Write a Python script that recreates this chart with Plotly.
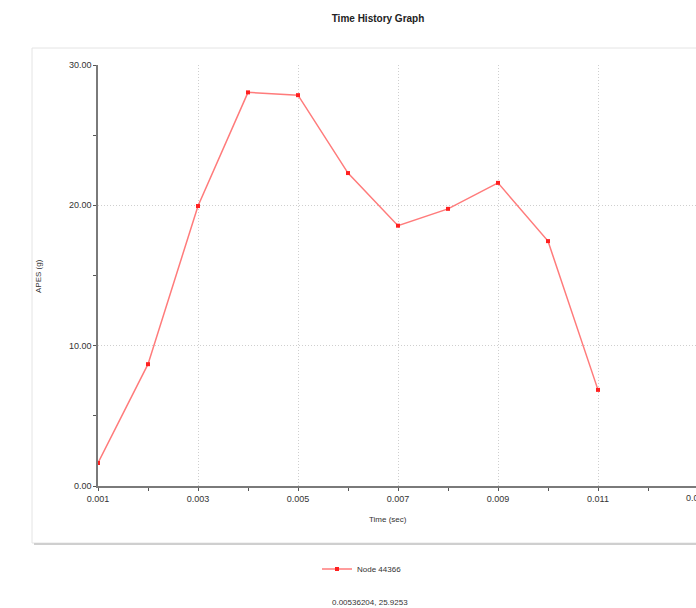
import plotly.graph_objects as go

# Time history samples for node 44366
time_sec = [0.001, 0.002, 0.003, 0.004, 0.005, 0.006, 0.007, 0.008, 0.009, 0.010, 0.011]
apes_g = [1.64, 8.68, 19.95, 28.05, 27.85, 22.3, 18.55, 19.75, 21.6, 17.45, 6.85]

x_ticks = [0.001, 0.003, 0.005, 0.007, 0.009, 0.011]
x_tick_labels = ["0.001", "0.003", "0.005", "0.007", "0.009", "0.011"]
y_ticks = [0, 10, 20, 30]
y_tick_labels = ["0.00", "10.00", "20.00", "30.00"]

series_name = "Node 44366"
cursor_readout = "0.00536204, 25.9253"

W, H = 696, 608
L, T, B = 98, 65, 122
plot_w = W - L
plot_h = H - T - B

font = dict(family="Liberation Sans, Arial, sans-serif", size=9, color="#333333")
small = dict(family=font["family"], size=8, color="#333333")

fig = go.Figure()
fig.add_trace(go.Scatter(
    x=time_sec, y=apes_g, mode="lines+markers", name=series_name,
    line=dict(color="#ff7b7b", width=1.5),
    marker=dict(color="#ff2020", size=4, symbol="square"),
    cliponaxis=False,
))


def px_to_paper_x(px):
    return (px - L) / plot_w


def px_to_paper_y(py):
    return (H - B - py) / plot_h


def label(px, py, text, fnt, **kw):
    fig.add_annotation(x=px_to_paper_x(px), y=px_to_paper_y(py), xref="paper", yref="paper",
                       xanchor="center", yanchor="middle", text=text, showarrow=False,
                       font=fnt, **kw)


# light framed panel behind the plot
fig.add_shape(type="rect", xref="paper", yref="paper",
              x0=px_to_paper_x(32), x1=px_to_paper_x(720),
              y0=px_to_paper_y(543), y1=px_to_paper_y(48),
              line=dict(color="#e4e4e4", width=1), fillcolor="white", layer="below")
fig.add_shape(type="line", xref="paper", yref="paper",
              x0=px_to_paper_x(34), x1=px_to_paper_x(720),
              y0=px_to_paper_y(544), y1=px_to_paper_y(544),
              line=dict(color="#cfcfcf", width=2), layer="below")

axis_common = dict(
    showline=True, linecolor="#7a7a7a", linewidth=1.5,
    ticks="outside", ticklen=3, tickcolor="#555555",
    showgrid=True, gridcolor="#cfcfcf", griddash="1px,2px", gridwidth=1,
    zeroline=False, tickfont=font,
)

fig.update_xaxes(range=[0.001, 0.001 + plot_w / 50000], tickvals=x_ticks, ticktext=x_tick_labels,
                 minor=dict(dtick=0.001, tick0=0.001, ticks="outside", ticklen=3,
                            tickcolor="#555555", showgrid=False),
                 **axis_common)
fig.update_yaxes(range=[0, 30], tickvals=y_ticks, ticktext=y_tick_labels,
                 minor=dict(dtick=5, tick0=0, ticks="outside", ticklen=3,
                            tickcolor="#555555", showgrid=False),
                 **axis_common)

# next tick label, running past the right edge of the page
label(697, 498, "0.013", font)

label(388, 519, "Time (sec)", small)
label(38, 276, "APES (g)", small, textangle=-90)
label(370, 602, cursor_readout, small)

fig.update_layout(
    width=W, height=H,
    margin=dict(l=L, r=0, t=T, b=B),
    paper_bgcolor="white", plot_bgcolor="rgba(0,0,0,0)",
    title=dict(text="<b>Time History Graph</b>", x=378 / W, xanchor="center",
               y=1 - 18 / H, yanchor="middle", xref="container", yref="container",
               font=dict(family=font["family"], size=10, color="#222222")),
    showlegend=True,
    legend=dict(orientation="h", xref="container", yref="container",
                x=362 / W, xanchor="center", y=1 - 569 / H, yanchor="middle",
                font=small, bgcolor="rgba(0,0,0,0)"),
    font=font,
)

fig.write_html("out.html")
